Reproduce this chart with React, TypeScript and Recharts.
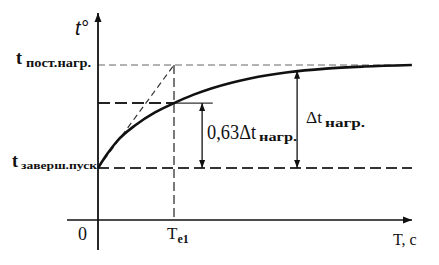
import { ComposedChart, Line, XAxis, YAxis, ReferenceLine, ReferenceDot } from "recharts";

// heating curve (time in units of Te1, temperature as share of Δt)
const curveTime = [0, 0.125, 0.25, 0.5, 0.75, 1, 1.25, 1.5, 2, 2.5, 3, 3.5, 4.13];
const curveTemp = [0, 0.14, 0.26, 0.42, 0.54, 0.63, 0.71, 0.775, 0.87, 0.93, 0.965, 0.985, 1];

const startLevel = 0;
const steadyLevel = 1;
const tauLevel = 0.63;
const tauTime = 1;
const xMin = -0.408;
const xMax = 4.132;
const yMin = -0.796;
const yMax = 1.505;
const xAxisLevel = -0.505;
const smallArrowTime = 1.37;
const bigArrowTime = 2.62;
const bigArrowTop = 0.945;
const tauLineEnd = 1.51;

const data = curveTime.map((t, i) => ({ t, v: curveTemp[i] }));

const serif = "'Liberation Serif', 'DejaVu Serif', serif";
const ink = "#111";

const head = (x: number, y: number, fx: number, fy: number, len: number, w: number) => {
  const a = Math.atan2(y - fy, x - fx);
  const bx = x - len * Math.cos(a);
  const by = y - len * Math.sin(a);
  const px = -Math.sin(a) * w;
  const py = Math.cos(a) * w;
  return `${x},${y} ${bx + px},${by + py} ${bx - px},${by - py}`;
};

const arrow = (both: boolean, width: number, len = 9, w = 3.5) => (p: any) => {
  const { x1, y1, x2, y2 } = p;
  return (
    <g>
      <line x1={x1} y1={y1} x2={x2} y2={y2} stroke={ink} strokeWidth={width} />
      <polygon points={head(x2, y2, x1, y1, len, w)} fill={ink} />
      {both && <polygon points={head(x1, y1, x2, y2, len, w)} fill={ink} />}
    </g>
  );
};

type Part = { s: string; size: number; bold?: boolean; dy?: number; dx?: number; len?: number; italic?: boolean; family?: string };

const note = (dx: number, dy: number, parts: Part[]) => (p: any) => (
  <text x={p.cx + dx} y={p.cy + dy} fill={ink} fontFamily={serif}>
    {parts.map((q, i) => (
      <tspan
        key={i}
        dx={q.dx ?? 0}
        dy={q.dy ?? 0}
        fontSize={q.size}
        fontWeight={q.bold ? 700 : 400}
        fontStyle={q.italic ? "italic" : "normal"}
        fontFamily={q.family ?? serif}
        textLength={q.len}
        lengthAdjust={q.len ? "spacingAndGlyphs" : undefined}
      >
        {q.s}
      </tspan>
    ))}
  </text>
);

const App = () => {
  return (
    <div style={{ position: "absolute", left: 0, top: 0, background: "#fff" }}>
      <ComposedChart width={439} height={265} data={data} margin={{ top: 13, right: 27, bottom: 15, left: 67 }}>
        <XAxis type="number" dataKey="t" domain={[xMin, xMax]} hide allowDataOverflow />
        <YAxis type="number" domain={[yMin, yMax]} hide allowDataOverflow />

        {/* dashed guides */}
        <ReferenceLine segment={[{ x: 0, y: steadyLevel }, { x: xMax, y: steadyLevel }]} stroke="#666" strokeWidth={1} strokeDasharray="7 4" ifOverflow="visible" />
        <ReferenceLine segment={[{ x: 0, y: startLevel }, { x: xMax, y: startLevel }]} stroke="#333" strokeWidth={1.8} strokeDasharray="11 5" ifOverflow="visible" />
        <ReferenceLine segment={[{ x: 0, y: tauLevel }, { x: tauTime, y: tauLevel }]} stroke="#222" strokeWidth={2} strokeDasharray="12 5" ifOverflow="visible" />
        <ReferenceLine segment={[{ x: tauTime, y: tauLevel }, { x: tauLineEnd, y: tauLevel }]} stroke="#333" strokeWidth={1.4} ifOverflow="visible" />
        <ReferenceLine segment={[{ x: tauTime, y: steadyLevel }, { x: tauTime, y: xAxisLevel }]} stroke="#222" strokeWidth={1.2} strokeDasharray="9 4" ifOverflow="visible" />
        <ReferenceLine segment={[{ x: 0, y: startLevel }, { x: tauTime, y: steadyLevel }]} stroke="#333" strokeWidth={1.2} strokeDasharray="6 4" ifOverflow="visible" />

        {/* axes */}
        <ReferenceLine segment={[{ x: xMin, y: xAxisLevel }, { x: xMax, y: xAxisLevel }]} shape={arrow(false, 1.5)} ifOverflow="visible" />
        <ReferenceLine segment={[{ x: 0, y: yMin }, { x: 0, y: yMax }]} shape={arrow(false, 1.8)} ifOverflow="visible" />

        {/* dimension arrows */}
        <ReferenceLine segment={[{ x: smallArrowTime, y: tauLevel }, { x: smallArrowTime, y: startLevel }]} shape={arrow(true, 1.3, 8, 3)} ifOverflow="visible" />
        <ReferenceLine segment={[{ x: bigArrowTime, y: bigArrowTop }, { x: bigArrowTime, y: startLevel }]} shape={arrow(true, 1.3, 8, 3)} ifOverflow="visible" />

        <Line type="monotone" dataKey="v" stroke={ink} strokeWidth={2.6} dot={false} isAnimationActive={false} />

        {/* labels */}
        <ReferenceDot x={0} y={yMax} r={0} shape={note(-23, 22, [{ s: "t°", size: 20, italic: true, family: "'Liberation Sans', sans-serif" }])} />
        <ReferenceDot x={0} y={steadyLevel} r={0} shape={note(-82, -1, [{ s: "t", size: 18, bold: true }, { s: "пост.нагр.", size: 12, bold: true, dx: 4, dy: 3, len: 65 }])} />
        <ReferenceDot x={0} y={startLevel} r={0} shape={note(-86, -1, [{ s: "t", size: 18, bold: true }, { s: "заверш.пуск", size: 11, bold: true, dx: 3, dy: 2, len: 76 }])} />
        <ReferenceDot x={smallArrowTime} y={startLevel} r={0} shape={note(5, -29, [{ s: "0,63Δt", size: 20, len: 49 }, { s: "нагр.", size: 12, bold: true, dx: 3, dy: 2, len: 38 }])} />
        <ReferenceDot x={bigArrowTime} y={startLevel} r={0} shape={note(9, -45, [{ s: "Δt", size: 17, len: 16 }, { s: "нагр.", size: 12, bold: true, dx: 3, dy: 4, len: 40 }])} />
        <ReferenceDot x={0} y={xAxisLevel} r={0} shape={note(-20, 20, [{ s: "0", size: 18 }])} />
        <ReferenceDot x={tauTime} y={xAxisLevel} r={0} shape={note(-7, 19, [{ s: "T", size: 17 }, { s: "e1", size: 12, bold: true, dy: 4 }])} />
        <ReferenceDot x={xMax} y={xAxisLevel} r={0} shape={note(-19, 25, [{ s: "T, c", size: 16 }])} />
      </ComposedChart>
    </div>
  );
};

export default App;
